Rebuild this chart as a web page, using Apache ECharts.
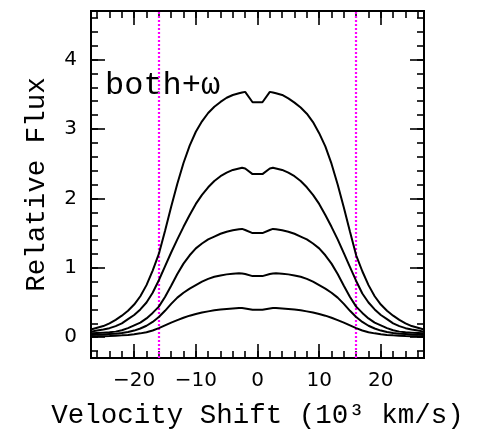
<!DOCTYPE html>
<html><head><meta charset="utf-8">
<script src="https://cdn.jsdelivr.net/npm/echarts@6/dist/echarts.min.js"></script>
<style>html,body{margin:0;padding:0;background:#fff}#c{width:483px;height:435px}</style>
</head><body><div id="c"></div>
<script>
// ---- data (velocity in 10^3 km/s, relative flux) ----
const velocity = [-27,-26,-25,-24,-23,-22,-21,-20,-19,-18,-17,-16,-15,-14,-13,-12,-11,-10,-9,-8,-7,-6,-5,-4,-3,-2.5,-2,-0.8,
                  0.8,2,2.5,3,4,5,6,7,8,9,10,11,12,13,14,15,16,17,18,19,20,21,22,23,24,25,26,27];
const flux5 = [0.11,0.135,0.16,0.20,0.25,0.31,0.38,0.47,0.59,0.75,0.96,1.20,1.53,1.88,2.21,2.51,2.76,2.96,3.11,3.23,3.32,3.39,3.45,3.49,3.515,3.525,3.535,3.385,
               3.385,3.535,3.525,3.515,3.49,3.44,3.38,3.31,3.22,3.10,2.94,2.75,2.50,2.20,1.87,1.52,1.18,0.95,0.75,0.59,0.47,0.38,0.31,0.25,0.20,0.16,0.135,0.11];
const flux4 = [0.08,0.095,0.11,0.13,0.16,0.20,0.26,0.32,0.40,0.50,0.64,0.82,1.02,1.22,1.41,1.59,1.76,1.92,2.05,2.16,2.25,2.32,2.37,2.41,2.43,2.44,2.43,2.35,
               2.35,2.43,2.44,2.43,2.41,2.37,2.32,2.25,2.16,2.05,1.92,1.76,1.59,1.41,1.21,1.01,0.81,0.63,0.50,0.40,0.32,0.26,0.20,0.16,0.13,0.11,0.095,0.08];
const flux3 = [0.055,0.06,0.065,0.07,0.08,0.10,0.13,0.17,0.21,0.27,0.35,0.44,0.58,0.74,0.91,1.06,1.18,1.28,1.35,1.41,1.45,1.49,1.52,1.54,1.555,1.56,1.545,1.50,
               1.50,1.545,1.56,1.555,1.54,1.52,1.49,1.45,1.41,1.35,1.28,1.18,1.06,0.91,0.74,0.58,0.44,0.35,0.27,0.21,0.17,0.13,0.10,0.08,0.07,0.065,0.06,0.055];
const flux2 = [0.033,0.036,0.04,0.045,0.05,0.06,0.075,0.095,0.125,0.165,0.22,0.29,0.38,0.48,0.57,0.64,0.70,0.75,0.80,0.84,0.87,0.89,0.905,0.915,0.92,0.918,0.91,0.88,
               0.88,0.91,0.918,0.92,0.915,0.905,0.89,0.87,0.84,0.80,0.75,0.70,0.64,0.57,0.48,0.38,0.29,0.22,0.165,0.125,0.095,0.075,0.06,0.05,0.045,0.04,0.036,0.033];
const flux1 = [0.01,0.012,0.015,0.018,0.022,0.027,0.033,0.042,0.055,0.072,0.097,0.13,0.17,0.21,0.245,0.28,0.31,0.335,0.355,0.372,0.387,0.398,0.407,0.414,0.42,0.419,0.414,0.395,
               0.395,0.414,0.419,0.42,0.414,0.407,0.398,0.387,0.372,0.355,0.335,0.31,0.28,0.245,0.21,0.17,0.13,0.097,0.072,0.055,0.042,0.033,0.027,0.022,0.018,0.015,0.012,0.01];
const guideVelocity = [-16, 16];
const xTickLabels = [-20, -10, 0, 10, 20];
const yTickLabels = [0, 1, 2, 3, 4];
const annotation = 'both+\u03c9';

// ---- layout ----
const L = 91, R = 59, T = 11, B = 77;
const xMin = -27, xMax = 27, yMin = -0.3, yMax = 4.7;
const sx = (483 - L - R) / (xMax - xMin);
const sy = (435 - T - B) / (yMax - yMin);
function sub(x0, x1, y0, y1) {
  return {
    grid: { left: L + (x0 - xMin) * sx, right: R + (xMax - x1) * sx,
            top: T + (yMax - y1) * sy, bottom: B + (y0 - yMin) * sy },
    offL: (x0 - xMin) * sx, offR: (xMax - x1) * sx,
    offT: (yMax - y1) * sy, offB: (y0 - yMin) * sy
  };
}
const minorG = sub(-26, 26, -0.2, 4.6);
const majorG = sub(-20, 20, 0, 4);

const tickFont = { fontFamily: 'DejaVu Sans', fontSize: 20, color: '#000' };
const titleFont = { fontFamily: 'Liberation Mono', fontSize: 27.5, color: '#000' };
const fmt = v => (v < 0 ? '\u2212' + Math.abs(v) : String(v));

function tickAxis(kind, pos, gi, min, max, interval, len, off, labels) {
  const ax = {
    type: 'value', gridIndex: gi, position: pos, min: min, max: max, interval: interval,
    offset: off,
    axisLine: { show: false, onZero: false }, splitLine: { show: false },
    axisTick: { show: true, inside: true, length: len, lineStyle: { color: '#000', width: 1.6 } },
    axisLabel: { show: false }
  };
  if (labels) {
    ax.axisLabel = Object.assign({ show: true, margin: kind === 'x' ? 13 : 14, formatter: v => {
      const list = kind === 'x' ? xTickLabels : yTickLabels;
      return list.includes(v) ? fmt(v) : '';
    } }, tickFont);
  }
  return ax;
}

const curves = [flux1, flux2, flux3, flux4, flux5];
const series = curves.map((f, i) => ({
  type: 'line', xAxisIndex: 0, yAxisIndex: 0,
  data: velocity.map((v, j) => [v, f[j]]),
  showSymbol: false, symbol: 'none', smooth: false,
  lineStyle: { color: '#000', width: 2 },
  silent: true, z: 3
}));
series[0].markLine = {
  silent: true, symbol: 'none', label: { show: false },
  lineStyle: { color: '#ff00ff', width: 2.2, type: [2, 2] },
  data: guideVelocity.map(v => ({ xAxis: v })),
  z: 2
};

const option = {
  animation: false,
  backgroundColor: '#fff',
  grid: [
    { left: L, right: R, top: T, bottom: B, show: true, borderColor: '#000', borderWidth: 2, backgroundColor: 'transparent' },
    minorG.grid,
    majorG.grid
  ],
  xAxis: [
    { type: 'value', gridIndex: 0, min: xMin, max: xMax, axisLine: { show: false, onZero: false }, axisTick: { show: false },
      axisLabel: { show: false }, splitLine: { show: false },
      name: 'Velocity Shift (10\u00b3 km/s)', nameLocation: 'middle', nameGap: 44, nameTextStyle: titleFont },
    tickAxis('x', 'bottom', 1, -26, 26, 2, 7, minorG.offB, false),
    tickAxis('x', 'top', 1, -26, 26, 2, 7, minorG.offT, false),
    tickAxis('x', 'bottom', 2, -20, 20, 10, 14, majorG.offB, true),
    tickAxis('x', 'top', 2, -20, 20, 10, 14, majorG.offT, false)
  ],
  yAxis: [
    { type: 'value', gridIndex: 0, min: yMin, max: yMax, axisLine: { show: false, onZero: false }, axisTick: { show: false },
      axisLabel: { show: false }, splitLine: { show: false },
      name: 'Relative Flux', nameLocation: 'middle', nameGap: 40, nameTextStyle: titleFont },
    tickAxis('y', 'left', 1, -0.2, 4.6, 0.2, 7, minorG.offL, false),
    tickAxis('y', 'right', 1, -0.2, 4.6, 0.2, 7, minorG.offR, false),
    tickAxis('y', 'left', 2, 0, 4, 1, 14, majorG.offL, true),
    tickAxis('y', 'right', 2, 0, 4, 1, 14, majorG.offR, false)
  ],
  graphic: [{
    type: 'text', left: 105, top: 70,
    style: { text: annotation, font: '32px "Liberation Mono"', fill: '#000' }
  }],
  series: series
};
const chart = echarts.init(document.getElementById('c'), null, { renderer: 'canvas' });
chart.setOption(option);
</script></body></html>
